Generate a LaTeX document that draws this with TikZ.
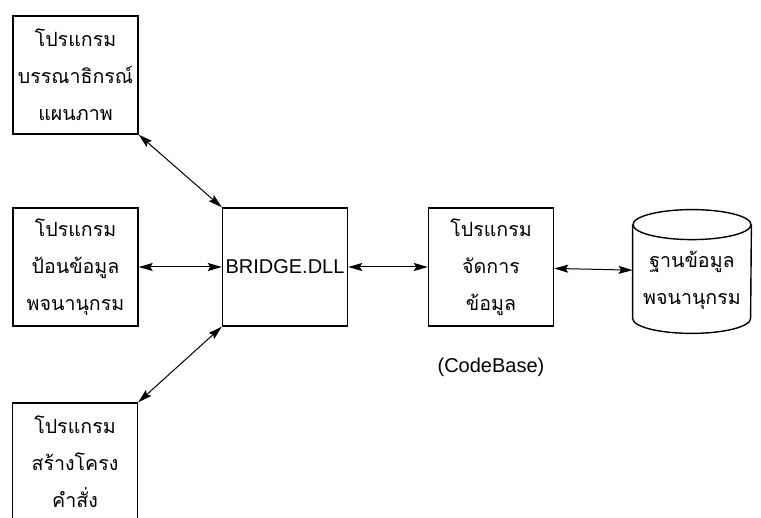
\documentclass[tikz,border=0pt]{standalone}
\usepackage{fontspec}
\setmainfont{Liberation Sans}
\newfontfamily\thaifont[Script=Thai]{Loma}
\usetikzlibrary{arrows.meta}

\begin{document}
\begin{tikzpicture}[x=0.5pt,y=-0.5pt,
		chuthai/.style={align=center,font=\thaifont\fontsize{9.8}{18.5}\selectfont},
		khung/.style={draw,line width=0.7pt,minimum width=62.5pt,minimum height=59pt,inner sep=0pt,chuthai},
		muiten/.style={{Stealth[length=7pt,width=4pt,inset=1.2pt]}-{Stealth[length=7pt,width=4pt,inset=1.2pt]},line width=0.5pt}]
		\useasboundingbox (0,0) rectangle (761,518);
		% cac chuong trinh ben trai
		\node[khung] (editor) at (75.5,75) {โปรแกรม\\บรรณาธิกรณ์\\แผนภาพ};
		\node[khung] (input) at (75.5,267) {โปรแกรม\\ป้อนข้อมูล\\พจนานุกรม};
		\node[khung] (builder) at (75,462) {โปรแกรม\\สร้างโครง\\คำสั่ง};
		% o giua
		\node[khung,font=\fontsize{10}{12}\selectfont] (bridge) at (285,267) {BRIDGE.DLL};
		\node[khung] (manager) at (491,267) {โปรแกรม\\จัดการ\\ข้อมูล};
		\node (codebase) at (491,367) {\fontsize{10}{12}\selectfont(CodeBase)};
		% co so du lieu: than tru
		\node[minimum width=59pt,minimum height=46.5pt,inner sep=0pt] (dict) at (692,271.5) {};
		\draw[line width=0.7pt] (dict.north west) -- (dict.south west) arc[start angle=180,end angle=360,x radius=29.5pt,y radius=7.5pt] -- (dict.north east);
		\draw[line width=0.7pt] (dict.north) ellipse[x radius=29.5pt,y radius=7.5pt];
		\node[chuthai] (dicttext) at (692,280) {ฐานข้อมูล\\พจนานุกรม};
		\draw[muiten] (editor.south east) -- (bridge.north west);
		\draw[muiten] (input) -- (bridge);
		\draw[muiten] (builder.north east) -- (bridge.south west);
		\draw[muiten] (bridge) -- (manager);
		\draw[muiten] (manager) -- (dict);
	\end{tikzpicture}
\end{document}
